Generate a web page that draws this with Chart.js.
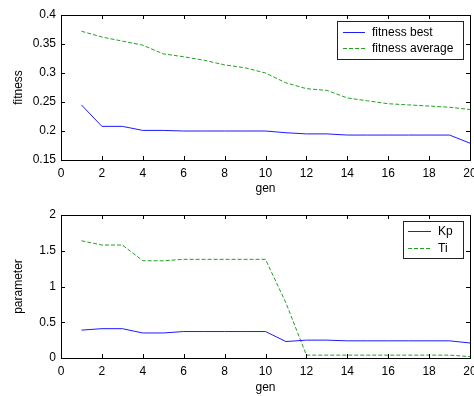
<!DOCTYPE html>
<html><head><meta charset="utf-8">
<script src="https://cdn.jsdelivr.net/npm/chart.js@4/dist/chart.umd.min.js"></script>
<style>
html,body{margin:0;padding:0;background:#fff;}
#w{position:relative;width:474px;height:396px;overflow:hidden;}
.c{position:absolute;left:0;}
</style></head><body>
<div id="w">
<div class="c" style="top:0;width:474px;height:200px"><canvas id="c1"></canvas></div>
<div class="c" style="top:200px;width:474px;height:196px"><canvas id="c2"></canvas></div>
</div>
<script>
const gens = [1,2,3,4,5,6,7,8,9,10,11,12,13,14,15,16,17,18,19,20];
const fitnessBest = [0.245,0.208,0.208,0.201,0.201,0.200,0.200,0.200,0.200,0.200,0.197,0.195,0.195,0.193,0.193,0.193,0.193,0.193,0.193,0.179];
const fitnessAverage = [0.372,0.362,0.355,0.348,0.333,0.328,0.322,0.314,0.309,0.300,0.283,0.273,0.270,0.257,0.252,0.247,0.245,0.243,0.241,0.237];
const kp = [0.39,0.41,0.41,0.35,0.35,0.37,0.37,0.37,0.37,0.37,0.23,0.25,0.25,0.24,0.24,0.24,0.24,0.24,0.24,0.21];
const ti = [1.64,1.58,1.58,1.36,1.36,1.38,1.38,1.38,1.38,1.38,0.77,0.04,0.04,0.04,0.04,0.04,0.04,0.04,0.04,0.02];
const topLabels = ['fitness best','fitness average'];
const bottomLabels = ['Kp','Ti'];

const FONT = 'Arial, "Liberation Sans", sans-serif';
const BLUE = '#1a1aff';
const GREEN = '#22a022';
const DASH = [4,2];

function pts(ys){ return gens.map((g,i)=>({x:g,y:ys[i]})); }

const boxPlugin = {
  id:'boxPlugin',
  afterDraw(chart){
    const ctx = chart.ctx;
    const {left,right,top,bottom} = chart.chartArea;
    const xs = chart.scales.x, ys = chart.scales.y;
    ctx.save();
    ctx.strokeStyle = '#000';
    ctx.lineWidth = 1;
    ctx.strokeRect(Math.round(left)+0.5, Math.round(top)+0.5, Math.round(right-left), Math.round(bottom-top));
    ctx.beginPath();
    const L = 4;
    xs.ticks.forEach(t=>{
      const p = Math.round(xs.getPixelForValue(t.value))+0.5;
      ctx.moveTo(p,bottom); ctx.lineTo(p,bottom-L);
      ctx.moveTo(p,top); ctx.lineTo(p,top+L);
    });
    ys.ticks.forEach(t=>{
      const p = Math.round(ys.getPixelForValue(t.value))+0.5;
      ctx.moveTo(left,p); ctx.lineTo(left+L,p);
      ctx.moveTo(right,p); ctx.lineTo(right-L,p);
    });
    ctx.stroke();
    const lg = chart.options.plugins.customLegend;
    if (lg){
      ctx.fillStyle='#fff';
      ctx.fillRect(lg.x, lg.y, lg.w, lg.h);
      ctx.strokeStyle='#222';
      ctx.strokeRect(lg.x+0.5, lg.y+0.5, lg.w, lg.h);
      ctx.font = '12px ' + FONT;
      ctx.textBaseline='middle';
      lg.items.forEach((it,i)=>{
        const yy = Math.round(lg.y + lg.row0 + i*lg.rowH)+0.5;
        ctx.beginPath();
        ctx.lineWidth = 1;
        ctx.strokeStyle = it.color;
        ctx.setLineDash(it.dash || []);
        ctx.moveTo(lg.x+lg.s0, yy); ctx.lineTo(lg.x+lg.s1, yy);
        ctx.stroke();
        ctx.setLineDash([]);
        ctx.fillStyle='#000';
        ctx.fillText(it.label, lg.x+lg.tx, yy);
      });
    }
    ctx.restore();
  }
};

function makeChart(id, ds, yopt, title, genB, xh, legend){
  return new Chart(document.getElementById(id), {
    type:'line',
    data:{datasets:ds},
    options:{
      responsive:true, maintainAspectRatio:false, animation:false,
      layout:{padding:{left:0,right:4,top:15,bottom:0}},
      plugins:{legend:{display:false}, tooltip:{enabled:false}, customLegend:legend},
      elements:{point:{radius:0}, line:{tension:0, borderWidth:1}},
      scales:{
        x:{type:'linear', min:0, max:20,
          ticks:{stepSize:2, color:'#000', font:{size:12,family:FONT}, padding:6, maxRotation:0},
          grid:{display:false, drawTicks:false, tickLength:0}, border:{display:false},
          title:{display:true, text:'gen', color:'#000', font:{size:12,family:FONT}, padding:{top:0,bottom:genB}},
          afterFit(s){ s.height = xh; s.paddingLeft = 0; s.paddingRight = 0; }
        },
        y:Object.assign({
          ticks:Object.assign({color:'#000', font:{size:12,family:FONT}, padding:5}, yopt.ticks),
          grid:{display:false, drawTicks:false, tickLength:0}, border:{display:false},
          title:{display:true, text:title, color:'#000', font:{size:12,family:FONT}, padding:{top:11,bottom:0}},
          afterFit(s){ s.width = 61; s.paddingTop = 0; s.paddingBottom = 0; }
        }, yopt.range)
      }
    },
    plugins:[boxPlugin]
  });
}

makeChart('c1', [
  {label:topLabels[0], data:pts(fitnessBest), borderColor:BLUE, borderWidth:1},
  {label:topLabels[1], data:pts(fitnessAverage), borderColor:GREEN, borderWidth:1, borderDash:DASH}
], {range:{min:0.15,max:0.4}, ticks:{stepSize:0.05, callback:v=>String(+v.toFixed(2))}},
 'fitness', 4, 40,
 {x:337,y:21,w:126,h:38,row0:11,rowH:16,s0:6,s1:28,tx:35,
  items:[{label:topLabels[0],color:BLUE},{label:topLabels[1],color:GREEN,dash:DASH}]});

makeChart('c2', [
  {label:bottomLabels[0], data:pts(kp), borderColor:BLUE, borderWidth:1},
  {label:bottomLabels[1], data:pts(ti), borderColor:GREEN, borderWidth:1, borderDash:DASH}
], {range:{min:0,max:2}, ticks:{stepSize:0.5, callback:v=>String(+v.toFixed(1))}},
 'parameter', 1, 38,
 {x:403,y:21,w:60,h:37,row0:10,rowH:17,s0:5,s1:28,tx:35,
  items:[{label:bottomLabels[0],color:BLUE},{label:bottomLabels[1],color:GREEN,dash:DASH}]});
</script>
</body></html>
